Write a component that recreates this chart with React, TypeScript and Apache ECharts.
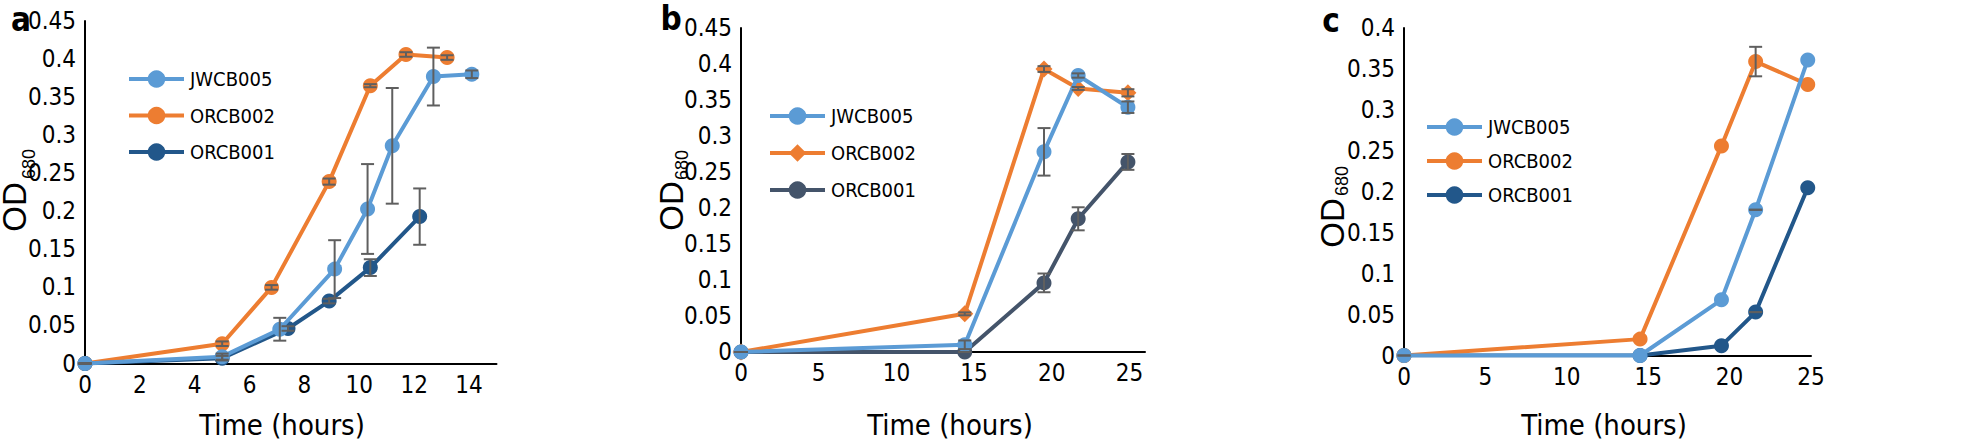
import React, { useEffect, useRef } from "react";
import * as echarts from "echarts";

// ---------- Panel a ----------
const aJWTime = [0, 5.0, 7.1, 9.1, 10.3, 11.2, 12.7, 14.1];
const aJW = [0, 0.009, 0.045, 0.124, 0.203, 0.286, 0.377, 0.38];
const aJWErr = [0, 0.004, 0.015, 0.038, 0.059, 0.076, 0.038, 0.005];
const aO2Time = [0, 5.0, 6.8, 8.9, 10.4, 11.7, 13.2];
const aO2 = [0, 0.026, 0.1, 0.239, 0.365, 0.406, 0.402];
const aO2Err = [0, 0.003, 0.003, 0.004, 0.002, 0.003, 0.003];
const aO1Time = [0, 5.0, 7.4, 8.9, 10.4, 12.2];
const aO1 = [0, 0.007, 0.046, 0.082, 0.126, 0.193];
const aO1Err = [0, 0.003, 0.003, 0.003, 0.011, 0.037];

// ---------- Panel b ----------
const bTime = [0, 14.4, 19.5, 21.7, 24.9];
const bJW = [0, 0.01, 0.278, 0.384, 0.34];
const bJWErr = [0, 0.006, 0.033, 0.003, 0.008];
const bO2 = [0, 0.053, 0.393, 0.366, 0.36];
const bO2Err = [0, 0.002, 0.004, 0.002, 0.005];
const bO1 = [0, 0, 0.096, 0.185, 0.264];
const bO1Err = [0, 0, 0.013, 0.016, 0.011];

// ---------- Panel c ----------
const cTime = [0, 14.5, 19.5, 21.6, 24.8];
const cJW = [0, 0, 0.068, 0.178, 0.361];
const cJWErr = [null, null, null, 0, null];
const cO2 = [0, 0.02, 0.256, 0.359, 0.331];
const cO2Err = [0, null, null, 0.018, null];
const cO1 = [0, 0, 0.012, 0.053, 0.205];
const cO1Err = [null, null, null, 0, null];

const strains = ["JWCB005", "ORCB002", "ORCB001"];
const xTickStepA = 2;
const xTickStepBC = 5;
const yTickStep = 0.05;

const FONT = "'Liberation Sans Narrow', 'DejaVu Sans Condensed', 'Roboto Condensed', sans-serif";
const WIDE = "'Liberation Sans', Arial, sans-serif";
const LIGHT = "#5B9BD5";
const ORANGE = "#ED7D31";
const DARK = "#22578a";
const SLATE = "#44546A";
const ERR = "#5f5f5f";

type Panel = {
  key: string;
  grid: { left: number; top: number; width: number; height: number };
  xMax: number;
  xStep: number;
  yMax: number;
  showMaxX: boolean;
  lines: { name: string; t: number[]; v: number[]; e: (number | null)[]; color: string; symbol: string; symbolSize: number; z: number }[];
  legend: { left: number; top: number; gap: number };
};

const panels: Panel[] = [
  {
    key: "a",
    grid: { left: 85, top: 21, width: 411.5, height: 342.5 },
    xMax: 15,
    xStep: xTickStepA,
    yMax: 0.45,
    showMaxX: false,
    lines: [
      { name: strains[1], t: aO2Time, v: aO2, e: aO2Err, color: ORANGE, symbol: "circle", symbolSize: 15, z: 2 },
      { name: strains[2], t: aO1Time, v: aO1, e: aO1Err, color: DARK, symbol: "circle", symbolSize: 15, z: 3 },
      { name: strains[0], t: aJWTime, v: aJW, e: aJWErr, color: LIGHT, symbol: "circle", symbolSize: 15, z: 4 },
    ],
    legend: { left: 127, top: 69, gap: 16.5 },
  },
  {
    key: "b",
    grid: { left: 741, top: 28, width: 404, height: 324 },
    xMax: 26,
    xStep: xTickStepBC,
    yMax: 0.45,
    showMaxX: false,
    lines: [
      { name: strains[2], t: bTime, v: bO1, e: bO1Err, color: SLATE, symbol: "circle", symbolSize: 15, z: 2 },
      { name: strains[1], t: bTime, v: bO2, e: bO2Err, color: ORANGE, symbol: "diamond", symbolSize: 17, z: 3 },
      { name: strains[0], t: bTime, v: bJW, e: bJWErr, color: LIGHT, symbol: "circle", symbolSize: 15, z: 4 },
    ],
    legend: { left: 768, top: 106, gap: 17 },
  },
  {
    key: "c",
    grid: { left: 1404, top: 28, width: 407, height: 327.5 },
    xMax: 25,
    xStep: xTickStepBC,
    yMax: 0.4,
    showMaxX: true,
    lines: [
      { name: strains[2], t: cTime, v: cO1, e: cO1Err, color: DARK, symbol: "circle", symbolSize: 15, z: 2 },
      { name: strains[1], t: cTime, v: cO2, e: cO2Err, color: ORANGE, symbol: "circle", symbolSize: 15, z: 3 },
      { name: strains[0], t: cTime, v: cJW, e: cJWErr, color: LIGHT, symbol: "circle", symbolSize: 15, z: 4 },
    ],
    legend: { left: 1425, top: 117, gap: 14 },
  },
];

const titleTexts = [
  { letter: "a", lx: 21, ly: 19, tx: 282, ody: 207, odx: 14.5, subx: 28.5, suby: 164 },
  { letter: "b", lx: 671, ly: 18, tx: 950, ody: 206, odx: 671, subx: 682, suby: 165 },
  { letter: "c", lx: 1331, ly: 20, tx: 1604, ody: 223, odx: 1332, subx: 1342, suby: 181 },
];

function buildOption() {
  const grid: any[] = [];
  const xAxis: any[] = [];
  const yAxis: any[] = [];
  const series: any[] = [];
  const legend: any[] = [];

  panels.forEach((p, i) => {
    grid.push({ ...p.grid, containLabel: false });
    xAxis.push({
      type: "value",
      gridIndex: i,
      min: 0,
      max: p.xMax,
      interval: p.xStep,
      axisLine: { show: true, lineStyle: { color: "#000", width: 2 } },
      axisTick: { show: false },
      splitLine: { show: false },
      axisLabel: { fontSize: 24, fontFamily: FONT, color: "#000", margin: 9, showMaxLabel: p.showMaxX },
    });
    yAxis.push({
      type: "value",
      gridIndex: i,
      min: 0,
      max: p.yMax,
      interval: yTickStep,
      axisLine: { show: true, lineStyle: { color: "#000", width: 2 } },
      axisTick: { show: false },
      splitLine: { show: false },
      axisLabel: {
        fontSize: 24,
        fontFamily: FONT,
        color: "#000",
        margin: 9,
        formatter: (v: number) => String(+v.toFixed(2)),
      },
    });
    const errData: number[][] = [];
    p.lines.forEach((l) => {
      series.push({
        type: "line",
        name: p.key + ":" + l.name,
        xAxisIndex: i,
        yAxisIndex: i,
        data: l.t.map((t, k) => [t, l.v[k]]),
        symbol: l.symbol,
        symbolSize: l.symbolSize,
        showSymbol: true,
        z: l.z,
        lineStyle: { color: l.color, width: 4 },
        itemStyle: { color: l.color },
      });
      l.t.forEach((t, k) => {
        const e = l.e[k];
        if (e !== null && e !== undefined) errData.push([t, l.v[k], e]);
      });
    });
    series.push({
      type: "custom",
      name: p.key + ":err",
      xAxisIndex: i,
      yAxisIndex: i,
      z: 10,
      data: errData,
      renderItem: (params: any, api: any) => {
        const x = api.value(0);
        const y = api.value(1);
        const e = api.value(2);
        const top = api.coord([x, y + e]);
        const bot = api.coord([x, y - e]);
        const hw = 6.5;
        const st = { stroke: ERR, lineWidth: 2 };
        return {
          type: "group",
          children: [
            { type: "line", shape: { x1: top[0], y1: top[1], x2: bot[0], y2: bot[1] }, style: st },
            { type: "line", shape: { x1: top[0] - hw, y1: top[1], x2: top[0] + hw, y2: top[1] }, style: st },
            { type: "line", shape: { x1: bot[0] - hw, y1: bot[1], x2: bot[0] + hw, y2: bot[1] }, style: st },
          ],
        };
      },
    });
    legend.push({
      orient: "vertical",
      left: p.legend.left,
      top: p.legend.top,
      padding: 0,
      itemGap: p.legend.gap,
      itemWidth: 55,
      itemHeight: 22,
      data: strains.map((s) => p.key + ":" + s),
      formatter: (name: string) => name.slice(2),
      lineStyle: { width: 4 },
      textStyle: { fontSize: 20, fontFamily: FONT, color: "#000", padding: [0, 0, 0, 1] },
      selectedMode: false,
    });
  });

  const graphic: any[] = [];
  titleTexts.forEach((t) => {
    graphic.push({
      type: "text",
      x: t.lx,
      y: t.ly,
      style: { text: t.letter, fontSize: 33, lineHeight: 26, fontWeight: "bold", fontFamily: FONT, fill: "#000", align: "center", verticalAlign: "middle" },
    });
    graphic.push({
      type: "text",
      x: t.tx,
      y: 425,
      style: { text: "Time (hours)", fontSize: 29, fontFamily: FONT, fill: "#000", align: "center", verticalAlign: "middle" },
    });
    graphic.push({
      type: "text",
      x: t.odx,
      y: t.ody,
      rotation: Math.PI / 2,
      style: { text: "OD", fontSize: 33, lineHeight: 24, fontFamily: WIDE, fill: "#000", align: "center", verticalAlign: "middle" },
    });
    graphic.push({
      type: "text",
      x: t.subx,
      y: t.suby,
      rotation: Math.PI / 2,
      style: { text: "680", fontSize: 18, lineHeight: 14, fontFamily: WIDE, fill: "#000", align: "center", verticalAlign: "middle" },
    });
  });

  return {
    animation: false,
    backgroundColor: "#fff",
    grid,
    xAxis,
    yAxis,
    series,
    legend,
    graphic,
  };
}

export default function App() {
  const ref = useRef<HTMLDivElement>(null);
  useEffect(() => {
    if (!ref.current) return;
    const chart = echarts.init(ref.current, null, { renderer: "svg" });
    chart.setOption(buildOption() as any);
    return () => chart.dispose();
  }, []);
  return (
    <div
      ref={ref}
      style={{ position: "absolute", left: 0, top: 0, width: 1961, height: 446, background: "#fff" }}
    />
  );
}
